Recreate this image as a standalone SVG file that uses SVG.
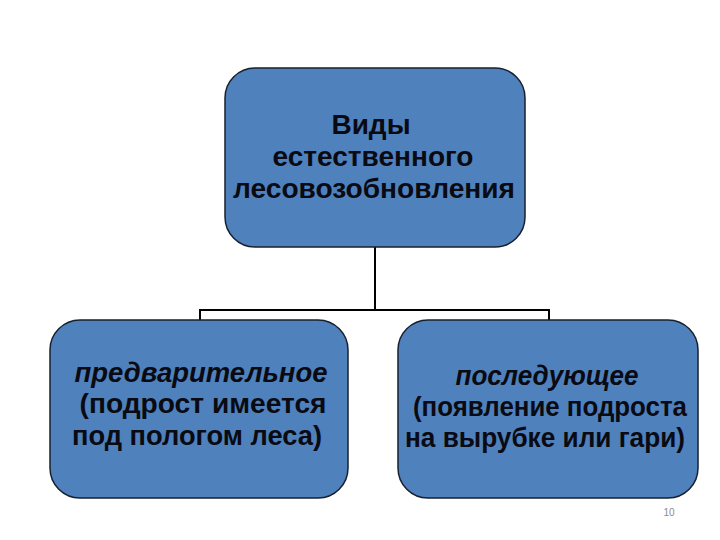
<svg xmlns="http://www.w3.org/2000/svg" width="720" height="540" viewBox="0 0 720 540">
<style>
.box{fill:#4F81BD;stroke:#17202e;stroke-width:1.5}
.t{font-family:"Liberation Sans",Arial,sans-serif;font-weight:bold;font-size:28px;fill:#0a0a12;text-anchor:middle}
.r{font-size:27px}
.i{font-style:italic}
.conn{fill:none;stroke:#000;stroke-width:2}
.pg{font-family:"Liberation Sans",Arial,sans-serif;font-size:10px;fill:#8c8c8c;text-anchor:middle}
</style>
<rect width="720" height="540" fill="#fff"/>
<g id="connectors">
<path class="conn" d="M375,247 V310 M200,320 V310 H549 V320"/>
</g>
<g id="top">
<rect class="box" x="225" y="68" width="300" height="179" rx="30" ry="30"/>
<text class="t" x="371" y="134">Виды</text>
<text class="t" x="373" y="166" textLength="201" lengthAdjust="spacingAndGlyphs">естественного</text>
<text class="t" x="374" y="198" textLength="282" lengthAdjust="spacingAndGlyphs">лесовозобновления</text>
</g>
<g id="left">
<rect class="box" x="50" y="320" width="298" height="178" rx="30" ry="30"/>
<text class="t i" x="201" y="382" textLength="253" lengthAdjust="spacingAndGlyphs">предварительное</text>
<text class="t" x="203" y="413" textLength="247" lengthAdjust="spacingAndGlyphs">(подрост имеется</text>
<text class="t" x="197" y="445" textLength="250" lengthAdjust="spacingAndGlyphs">под пологом леса)</text>
</g>
<g id="right">
<rect class="box" x="398" y="320" width="300" height="178" rx="30" ry="30"/>
<text class="t r i" x="547" y="385" textLength="183" lengthAdjust="spacingAndGlyphs">последующее</text>
<text class="t r" x="550" y="416" textLength="274" lengthAdjust="spacingAndGlyphs">(появление подроста</text>
<text class="t r" x="545" y="447" textLength="280" lengthAdjust="spacingAndGlyphs">на вырубке или гари)</text>
</g>
<text class="pg" x="669" y="516">10</text>
</svg>
